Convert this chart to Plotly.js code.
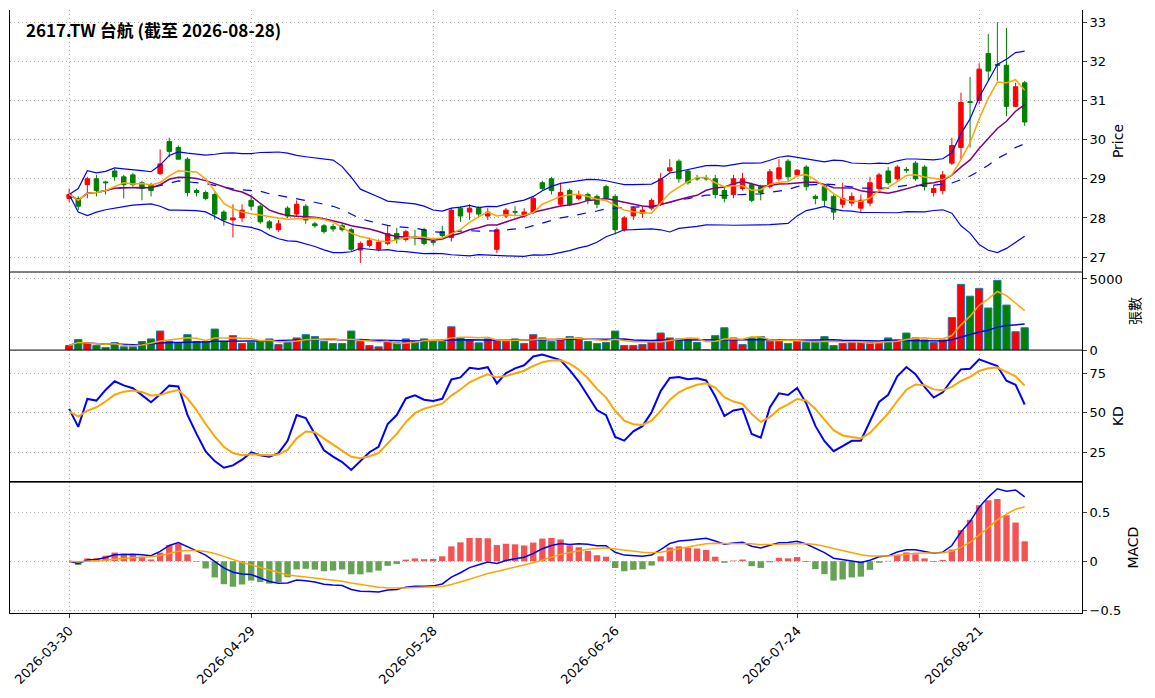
<!DOCTYPE html>
<html><head><meta charset="utf-8">
<script src="https://cdn.plot.ly/plotly-3.0.1.min.js"></script>
<style>body{margin:0;background:#fff}#c{width:1155px;height:698px}</style>
</head><body><div id="c"></div>
<script>
const tickDates = ["2026-03-30","2026-04-29","2026-05-28","2026-06-26","2026-07-24","2026-08-21"];
const tickIdx = [0,20,40,60,80,100];
const openP = [28.5,28.5,28.85,29.0,28.92,29.2,29.05,29.1,28.9,28.85,29.13,29.95,29.8,29.5,28.7,28.65,28.6,28.15,27.95,28.0,
 28.45,28.3,27.9,27.7,28.25,28.1,28.3,27.85,27.8,27.78,27.8,27.7,27.18,27.3,27.2,27.35,27.6,27.45,27.52,27.7,
 27.4,27.65,27.5,28.25,28.15,28.25,28.05,27.2,28.05,28.16,28.05,28.15,28.9,29.0,28.35,28.7,28.5,28.6,28.55,28.8,
 28.55,27.7,28.05,28.12,28.25,28.35,29.2,29.45,29.2,29.02,29.02,29.0,28.7,28.6,28.75,28.85,28.8,28.8,29.0,29.45,
 29.1,29.3,28.55,28.8,28.55,28.35,28.38,28.25,28.38,28.75,29.2,29.0,29.24,29.4,29.3,28.65,28.7,29.4,29.8,30.97,
 31.0,32.2,31.92,31.9,30.85,31.45];
const closeP = [28.6,28.3,29.0,28.7,28.9,29.05,28.85,28.85,28.75,28.7,29.38,29.7,29.5,28.65,28.65,28.5,28.1,27.95,28.0,28.2,
 28.3,27.9,27.75,27.85,28.05,28.35,27.95,27.8,27.65,27.72,27.7,27.2,27.35,27.42,27.38,27.6,27.45,27.65,27.5,27.35,
 27.38,27.55,28.2,28.05,28.25,28.1,28.15,27.7,28.2,28.15,28.15,28.5,28.75,28.7,28.65,28.35,28.58,28.45,28.35,28.5,
 27.7,28.0,28.25,28.2,28.45,29.0,29.28,29.0,28.9,29.0,29.0,28.6,28.5,29.0,29.0,28.45,28.65,29.18,29.28,29.05,
 29.22,28.8,28.5,28.45,28.15,28.5,28.55,28.45,28.9,29.1,28.9,29.3,29.22,29.0,28.8,28.75,29.1,29.85,30.95,30.95,
 31.8,31.75,31.9,30.85,31.35,30.45];
const highP = [28.75,28.55,29.05,29.1,28.95,29.25,29.1,29.15,28.95,28.9,29.75,30.05,29.85,29.55,28.75,28.7,28.65,28.2,28.35,28.35,
 28.55,28.35,27.95,27.95,28.3,28.45,28.35,27.9,27.85,27.85,27.85,27.75,27.4,27.5,27.45,27.8,27.75,27.7,27.7,27.75,
 27.5,27.8,28.25,28.3,28.35,28.3,28.25,27.75,28.25,28.3,28.25,28.55,28.95,29.05,28.9,28.75,28.7,28.65,28.6,28.85,
 28.6,28.05,28.3,28.3,28.5,29.15,29.5,29.5,29.25,29.1,29.1,29.1,28.8,29.1,29.15,28.9,28.85,29.25,29.5,29.5,
 29.25,29.35,28.6,28.85,28.6,28.9,28.65,28.6,29.05,29.15,29.3,29.35,29.3,29.45,29.35,28.85,29.2,30.05,31.2,31.6,
 31.95,32.7,33.0,32.85,31.45,31.5];
const lowP = [28.4,28.2,28.5,28.55,28.6,28.95,28.5,28.8,28.45,28.55,29.1,29.55,29.5,28.55,28.55,28.45,27.95,27.8,27.5,27.9,
 28.2,27.85,27.7,27.65,28.0,28.05,27.85,27.75,27.6,27.65,27.65,27.15,26.85,27.25,27.15,27.3,27.35,27.4,27.3,27.3,
 27.3,27.5,27.4,27.9,27.95,28.0,27.95,27.1,28.0,28.05,28.0,28.1,28.7,28.6,28.3,28.3,28.45,28.35,28.25,28.45,
 27.6,27.65,27.95,28.0,28.2,28.3,29.15,28.9,28.85,28.95,28.95,28.5,28.4,28.5,28.7,28.4,28.45,28.75,28.95,28.95,
 29.05,28.7,28.35,28.3,27.95,28.25,28.3,28.15,28.3,28.7,28.85,28.95,29.15,28.95,28.7,28.55,28.6,29.35,29.5,29.8,
 30.9,31.5,31.5,30.6,31.25,30.35];
const volume = [320,740,460,320,185,530,230,230,600,785,1340,620,510,1085,600,580,1480,600,1015,460,
 555,620,785,390,530,855,1085,950,600,460,460,1340,600,320,230,620,510,785,600,785,
 670,600,1640,855,715,510,785,670,670,785,460,1085,855,600,785,950,855,600,460,530,
 1340,320,320,390,600,1200,855,785,785,530,20,1015,1570,855,390,855,950,620,620,460,
 600,530,600,950,320,460,530,530,530,460,855,715,1200,855,715,530,715,2290,4620,3790,
 4340,2960,4900,3165,1290,1570];

const N = closeP.length, X = [...Array(N).keys()];
const sma=(a,n)=>a.map((_,i)=>{const s=a.slice(Math.max(0,i-n+1),i+1);return s.reduce((p,q)=>p+q,0)/s.length;});
const std=(a,n)=>a.map((_,i)=>{const s=a.slice(Math.max(0,i-n+1),i+1);const m=s.reduce((p,q)=>p+q,0)/s.length;return Math.sqrt(s.reduce((p,q)=>p+(q-m)*(q-m),0)/s.length);});
const ema=(a,n)=>{const k=2/(n+1);const o=[a[0]];for(let i=1;i<a.length;i++)o.push(a[i]*k+o[i-1]*(1-k));return o;};
const ma5=sma(closeP,5), ma10=sma(closeP,10), mid=sma(closeP,20), sd=std(closeP,20);
const up=mid.map((m,i)=>m+2*sd[i]), lo=mid.map((m,i)=>m-2*sd[i]);
const vma5=sma(volume,5), vma20=sma(volume,20);
let K=[],D=[],pk=50,pd=50;
for(let i=0;i<N;i++){const h=Math.max(...highP.slice(Math.max(0,i-8),i+1)),l=Math.min(...lowP.slice(Math.max(0,i-8),i+1));
 const rsv=h===l?50:(closeP[i]-l)/(h-l)*100;pk=pk*2/3+rsv/3;pd=pd*2/3+pk/3;K.push(pk);D.push(pd);}
const e12=ema(closeP,12),e26=ema(closeP,26),dif=e12.map((v,i)=>v-e26[i]),sig=ema(dif,9),hist=dif.map((v,i)=>2*(v-sig[i]));

const tr=[
 {type:'candlestick',x:X,open:openP,high:highP,low:lowP,close:closeP,xaxis:'x',yaxis:'y',
  increasing:{line:{color:'red',width:1},fillcolor:'red'},decreasing:{line:{color:'green',width:1},fillcolor:'green'},whiskerwidth:0,hoverinfo:'skip'},
 {x:X,y:up,mode:'lines',line:{color:'blue',width:1.2},yaxis:'y'},
 {x:X,y:lo,mode:'lines',line:{color:'blue',width:1.2},yaxis:'y'},
 {x:X,y:mid,mode:'lines',line:{color:'blue',width:1.2,dash:'dash'},yaxis:'y'},
 {x:X,y:ma10,mode:'lines',line:{color:'purple',width:1.5},yaxis:'y'},
 {x:X,y:ma5,mode:'lines',line:{color:'orange',width:1.5},yaxis:'y'},
 {type:'bar',x:X,y:volume,yaxis:'y2',width:0.8,marker:{color:closeP.map((c,i)=>c>=openP[i]?'red':'green'),line:{color:'#1f77b4',width:1}}},
 {x:X,y:vma20,mode:'lines',line:{color:'blue',width:1.5},yaxis:'y2'},
 {x:X,y:vma5,mode:'lines',line:{color:'orange',width:1.5},yaxis:'y2'},
 {x:X,y:K,mode:'lines',line:{color:'blue',width:2},yaxis:'y3'},
 {x:X,y:D,mode:'lines',line:{color:'orange',width:2},yaxis:'y3'},
 {type:'bar',x:X,y:hist,yaxis:'y4',width:0.7,marker:{color:hist.map(v=>v>=0?'rgba(240,40,40,0.8)':'rgba(60,140,40,0.8)')}},
 {x:X,y:dif,mode:'lines',line:{color:'blue',width:1.5},yaxis:'y4'},
 {x:X,y:sig,mode:'lines',line:{color:'orange',width:1.5},yaxis:'y4'}
];
const gridc='#b0b0b0';
const ya=(dom,range,title,tv)=>({domain:dom,range:range,side:'right',anchor:'x',showline:true,mirror:true,linecolor:'black',
 ticks:'outside',ticklen:4,gridcolor:gridc,griddash:'1px,3px',zeroline:false,tickvals:tv,
 title:{text:title,font:{size:14,color:'black'},standoff:8},tickfont:{size:13,color:'black'}});
const layout={width:1155,height:698,margin:{l:10,r:73,t:10,b:85},showlegend:false,plot_bgcolor:'white',paper_bgcolor:'white',
 font:{family:'DejaVu Sans, Noto Sans CJK TC',color:'black'},
 xaxis:{range:[-6.5,111.3],tickvals:tickIdx,ticktext:tickDates,tickangle:-45,showline:true,mirror:true,linecolor:'black',
  ticks:'outside',ticklen:4,gridcolor:gridc,griddash:'1px,3px',zeroline:false,rangeslider:{visible:false},tickfont:{size:13},anchor:'y4'},
 yaxis:ya([0.5655,1],[26.62,33.31],'Price',[27,28,29,30,31,32,33]),
 yaxis2:ya([0.436,0.5655],[0,5490],'張數',[0,5000]),
 yaxis3:ya([0.217,0.436],[6,89.6],'KD',[25,50,75]),
 yaxis4:ya([0,0.217],[-0.53,0.81],'MACD',[-0.5,0,0.5]),
 shapes:[0.5655,0.436,0.217].map(y=>({type:'line',xref:'paper',yref:'paper',x0:0,x1:1,y0:y,y1:y,line:{color:'black',width:1}})),
 annotations:[{xref:'paper',yref:'paper',x:0.013,y:0.992,xanchor:'left',yanchor:'top',showarrow:false,
  text:'2617.TW 台航 (截至 2026-08-28)',font:{size:17,color:'black',family:'Noto Sans CJK TC',weight:600}}]
};
layout.yaxis2.tickformat='d';
Plotly.newPlot('c',tr,layout,{displayModeBar:false,staticPlot:true});
</script></body></html>
